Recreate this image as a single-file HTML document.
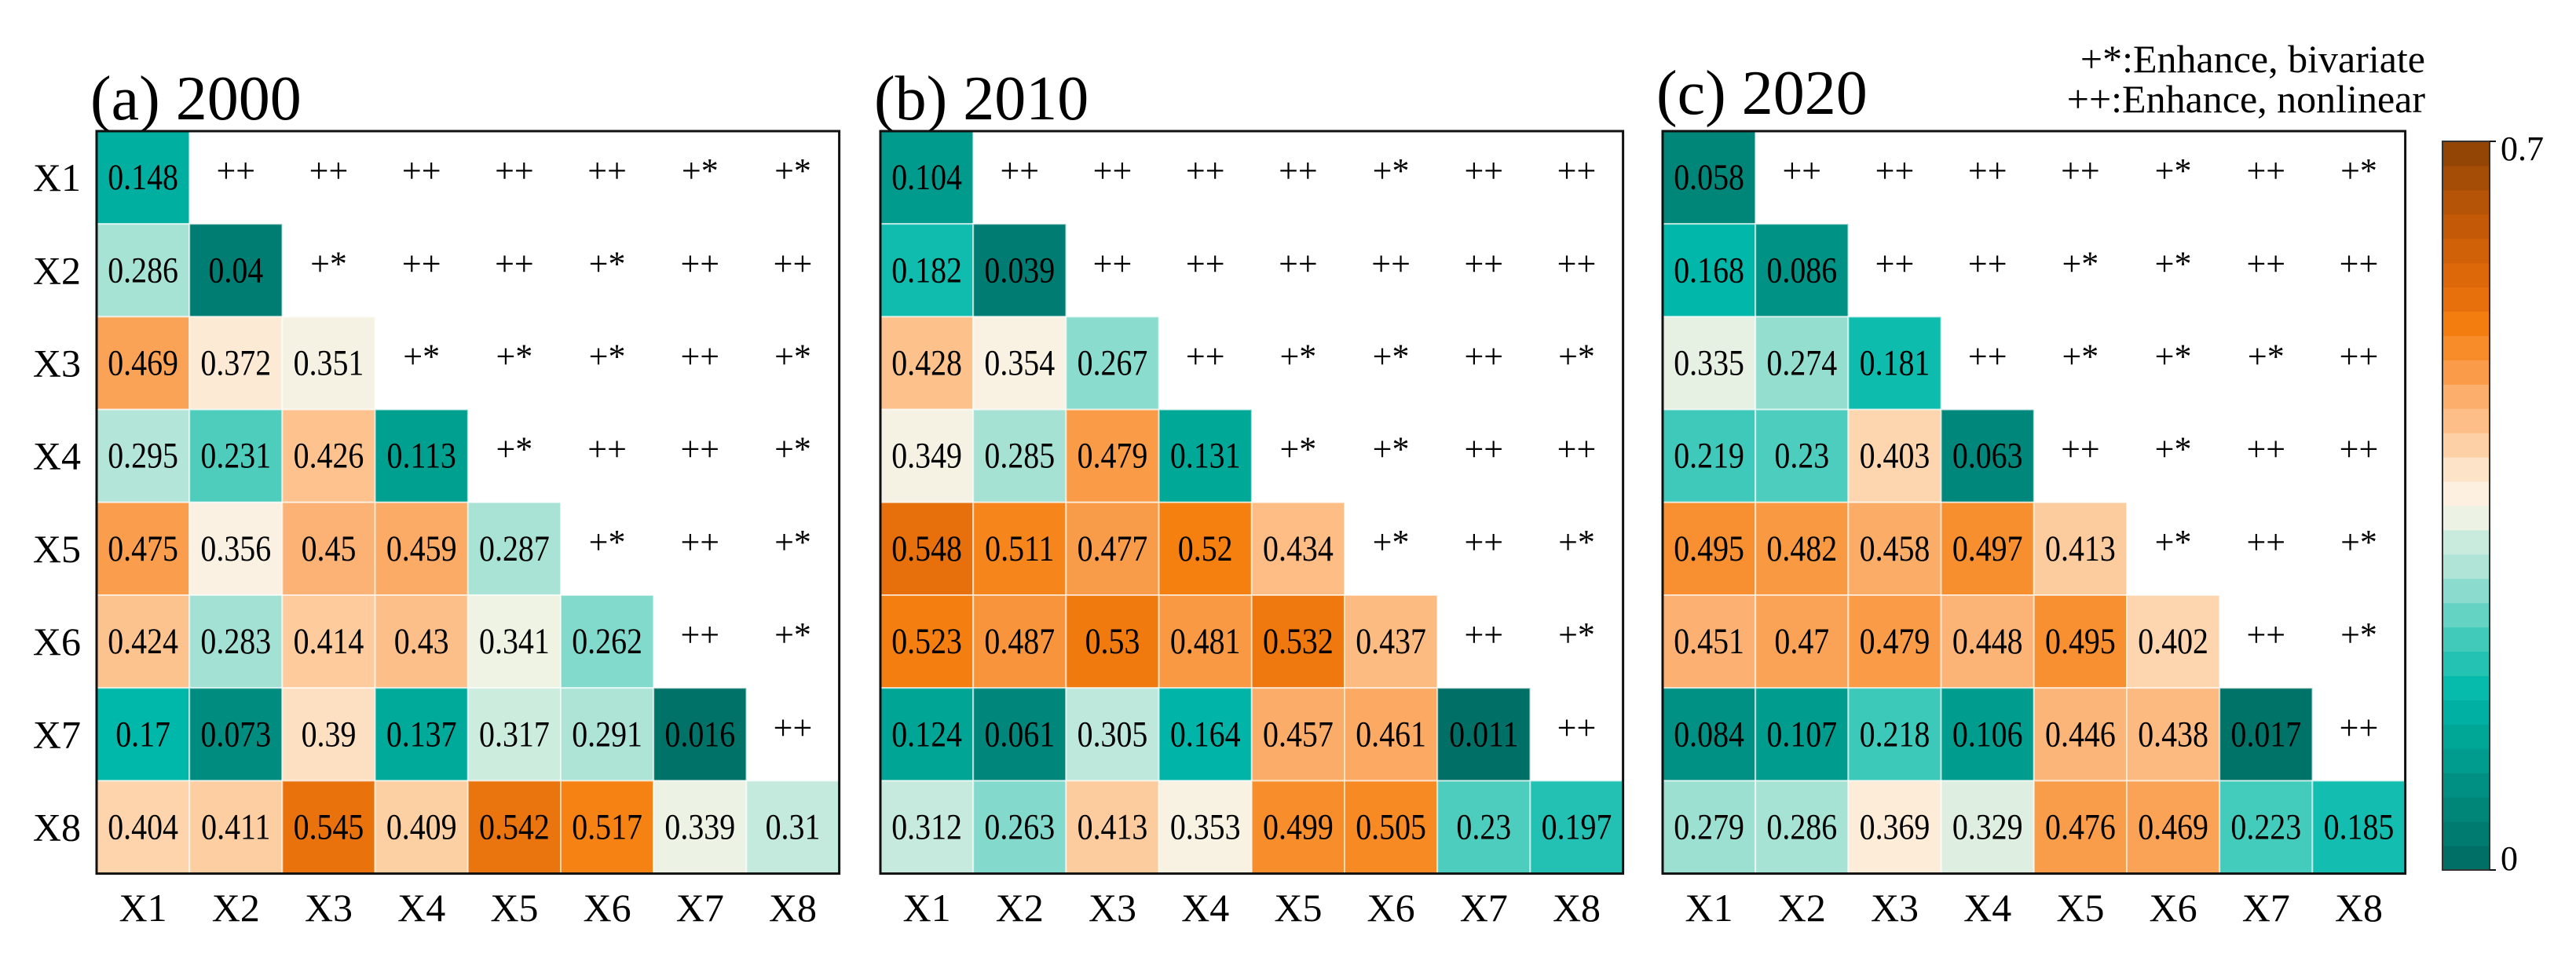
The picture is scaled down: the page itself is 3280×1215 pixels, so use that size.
<!DOCTYPE html>
<html><head><meta charset="utf-8"><style>
html,body{margin:0;padding:0;background:#fff;}
svg{display:block;font-family:"Liberation Serif",serif;}
</style></head><body>
<svg id="chart" width="3280" height="1215" viewBox="0 0 3280 1215" xmlns="http://www.w3.org/2000/svg">
<text x="3088" y="92" font-size="50" text-anchor="end">+*:Enhance, bivariate</text>
<text x="3088" y="143" font-size="50" text-anchor="end">++:Enhance, nonlinear</text>
<g id="panels"></g>
<g id="cbar"></g>
</svg>
<script>
const variables = ["X1","X2","X3","X4","X5","X6","X7","X8"];
const panelTitles = ["(a) 2000","(b) 2010","(c) 2020"];
const valuesA = [
[0.148],
[0.286,0.04],
[0.469,0.372,0.351],
[0.295,0.231,0.426,0.113],
[0.475,0.356,0.45,0.459,0.287],
[0.424,0.283,0.414,0.43,0.341,0.262],
[0.17,0.073,0.39,0.137,0.317,0.291,0.016],
[0.404,0.411,0.545,0.409,0.542,0.517,0.339,0.31]];
const valuesB = [
[0.104],
[0.182,0.039],
[0.428,0.354,0.267],
[0.349,0.285,0.479,0.131],
[0.548,0.511,0.477,0.52,0.434],
[0.523,0.487,0.53,0.481,0.532,0.437],
[0.124,0.061,0.305,0.164,0.457,0.461,0.011],
[0.312,0.263,0.413,0.353,0.499,0.505,0.23,0.197]];
const valuesC = [
[0.058],
[0.168,0.086],
[0.335,0.274,0.181],
[0.219,0.23,0.403,0.063],
[0.495,0.482,0.458,0.497,0.413],
[0.451,0.47,0.479,0.448,0.495,0.402],
[0.084,0.107,0.218,0.106,0.446,0.438,0.017],
[0.279,0.286,0.369,0.329,0.476,0.469,0.223,0.185]];
const symbolsA = [
["++","++","++","++","++","+*","+*"],
["+*","++","++","+*","++","++"],
["+*","+*","+*","++","+*"],
["+*","++","++","+*"],
["+*","++","+*"],
["++","+*"],
["++"]];
const symbolsB = [
["++","++","++","++","+*","++","++"],
["++","++","++","++","++","++"],
["++","+*","+*","++","+*"],
["+*","+*","++","++"],
["+*","++","+*"],
["++","+*"],
["++"]];
const symbolsC = [
["++","++","++","++","+*","++","+*"],
["++","++","+*","+*","++","++"],
["++","+*","+*","+*","++"],
["++","+*","++","++"],
["+*","++","+*"],
["++","+*"],
["++"]];
const colorbarTicks = [0, 0.7];

const vmin = 0, vmax = 0.7;
const cstops = [[0,"#006b62"],[0.07,"#008a7e"],[0.12,"#00a393"],[0.17,"#00b8aa"],[0.23,"#4ccdbd"],[0.265,"#86dbcd"],[0.29,"#ade4d6"],[0.315,"#c9ebde"],[0.34,"#eef3e4"],[0.36,"#fdf1e2"],[0.39,"#fde0c2"],[0.42,"#fdc693"],[0.45,"#fcb274"],[0.48,"#f99a45"],[0.52,"#f5800f"],[0.55,"#e66f0c"],[0.6,"#cf5f08"],[0.65,"#b05006"],[0.7,"#8a4205"]];
function hexRgb(c){return [parseInt(c.slice(1,3),16),parseInt(c.slice(3,5),16),parseInt(c.slice(5,7),16)];}
function colorOf(v){
  if(v<=cstops[0][0])return cstops[0][1];
  for(let i=1;i<cstops.length;i++){
    if(v<=cstops[i][0]){
      const a=hexRgb(cstops[i-1][1]),b=hexRgb(cstops[i][1]);
      const t=(v-cstops[i-1][0])/(cstops[i][0]-cstops[i-1][0]);
      return "rgb("+a.map((x,k)=>Math.round(x+(b[k]-x)*t)).join(",")+")";
    }
  }
  return cstops[cstops.length-1][1];
}
const SVGNS="http://www.w3.org/2000/svg";
function mk(tag,attrs,parent){const e=document.createElementNS(SVGNS,tag);for(const k in attrs)e.setAttribute(k,attrs[k]);parent.appendChild(e);return e;}
const cellSize=118.2, gridTop=167;
const panelLefts=[123,1121,2117];
const allVals=[valuesA,valuesB,valuesC];
const allSyms=[symbolsA,symbolsB,symbolsC];
const panelsG=document.getElementById("panels");
function xs(p,j){return panelLefts[p]+j*cellSize;}
function ys(i){return gridTop+i*cellSize;}
for(let p=0;p<3;p++){
  const g=mk("g",{},panelsG);
  
  
  const t=mk("text",{x:panelLefts[p]-8,y:p==2?145:152,"font-size":80},g);
  
  
  t.textContent=panelTitles[p];
  const vals=allVals[p], syms=allSyms[p];
  for(let i=0;i<vals.length;i++){
    for(let j=0;j<vals[i].length;j++){
      const r=mk("rect",{x:xs(p,j),y:ys(i),width:cellSize,height:cellSize,fill:colorOf(vals[i][j]),stroke:"#ffffff","stroke-opacity":0.6,"stroke-width":2},g);
      
      
      const cx=xs(p,j)+cellSize/2, cyy=ys(i)+cellSize/2+15;
      const tx=mk("text",{x:0,y:0,"font-size":42,"text-anchor":"middle",transform:"translate("+cx+","+cyy+") scale(0.95,1.12)"},g);
      
      
      tx.textContent=String(vals[i][j]);
    }
  }
  for(let i=0;i<syms.length;i++){
    for(let k=0;k<syms[i].length;k++){
      const j=i+1+k;
      const s=mk("text",{x:xs(p,j)+cellSize/2,y:ys(i)+cellSize/2+6,"font-size":44,"text-anchor":"middle"},g);
      
      
      s.textContent=syms[i][k];
    }
  }
  const b=mk("rect",{x:panelLefts[p],y:gridTop,width:cellSize*8,height:cellSize*8,fill:"none",stroke:"#111","stroke-width":3},g);
  
  
  for(let i=0;i<8;i++){
    if(p==0){
      const yl=mk("text",{x:panelLefts[p]-20,y:ys(i)+cellSize/2+17,"font-size":50,"text-anchor":"end"},g);
      
      
      yl.textContent=variables[i];
    }
    const xl=mk("text",{x:xs(p,i)+cellSize/2,y:1173,"font-size":50,"text-anchor":"middle"},g);
    
    
    xl.textContent=variables[i];
  }
}
const cb=document.getElementById("cbar");
const cbx=3110,cbw=60,cbt=180,cbb=1108,nsteps=30;
function cy(v){return cbb-(v-vmin)/(vmax-vmin)*(cbb-cbt);}
for(let s=0;s<nsteps;s++){
  const v0=vmin+(vmax-vmin)*s/nsteps, v1=vmin+(vmax-vmin)*(s+1)/nsteps;
  const r=mk("rect",{x:cbx,y:cy(v1),width:cbw,height:cy(v0)-cy(v1)+0.5,fill:colorOf((v0+v1)/2)},cb);
  
  
}
const cf=mk("rect",{x:cbx,y:cbt,width:cbw,height:cbb-cbt,fill:"none",stroke:"#333","stroke-width":2},cb);


colorbarTicks.forEach(v=>{
  const ln=mk("line",{x1:cbx+cbw,x2:cbx+cbw+8,y1:cy(v),y2:cy(v),stroke:"#111","stroke-width":2},cb);
  
  
  const tl=mk("text",{x:cbx+cbw+14,y:cy(v)+(v==vmax?24:0),"font-size":44},cb);
  
  
  tl.textContent=String(v);
});
</script>
</body></html>
